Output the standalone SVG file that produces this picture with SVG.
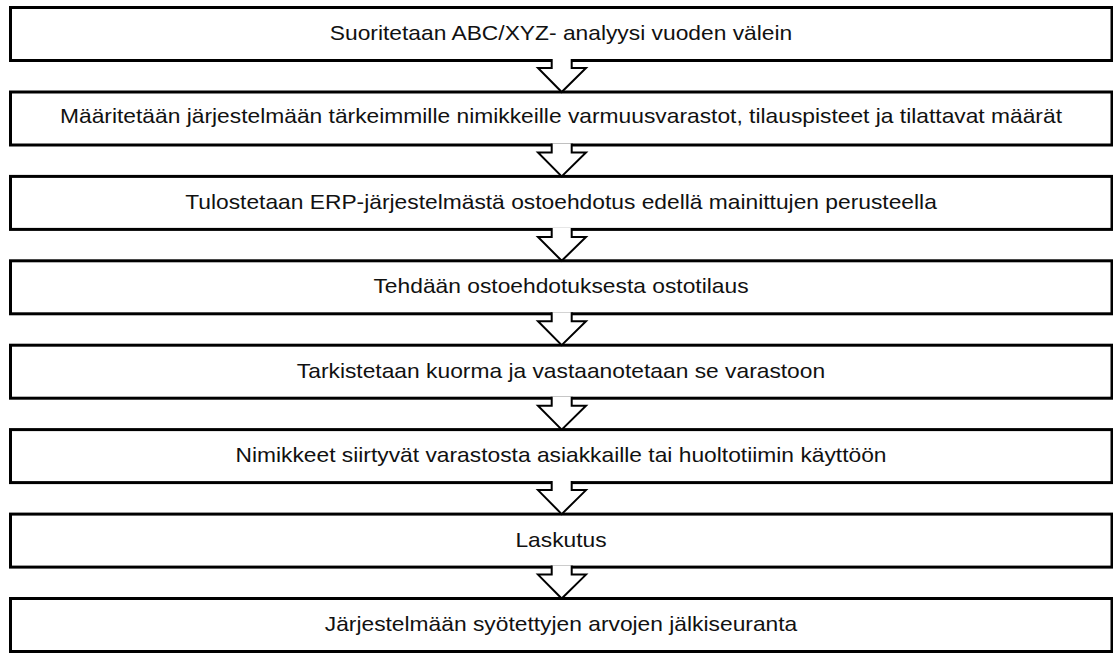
<svg xmlns="http://www.w3.org/2000/svg" width="1113" height="653" viewBox="0 0 1113 653">
<defs>
<style>
.box{fill:#fff;stroke:#000;stroke-width:3}
.lbl{font-family:"Liberation Sans",Arial,sans-serif;font-size:20px;fill:#111;text-anchor:middle}
.arr{fill:#fff;stroke:#000;stroke-width:2;stroke-linejoin:miter}
</style>
</defs>
<rect width="1113" height="653" fill="#fff"/>
<g id="n1"><rect class="box" x="10.5" y="7.5" width="1101.5" height="53"/><text class="lbl" transform="translate(561,39.5) scale(1.14,1)">Suoritetaan ABC/XYZ- analyysi vuoden välein</text></g>
<g id="n2"><rect class="box" x="10.5" y="92" width="1101.5" height="53"/><text class="lbl" transform="translate(561,123) scale(1.14,1)">Määritetään järjestelmään tärkeimmille nimikkeille varmuusvarastot, tilauspisteet ja tilattavat määrät</text></g>
<g id="n3"><rect class="box" x="10.5" y="176.4" width="1101.5" height="53"/><text class="lbl" transform="translate(561,208.5) scale(1.14,1)">Tulostetaan ERP-järjestelmästä ostoehdotus edellä mainittujen perusteella</text></g>
<g id="n4"><rect class="box" x="10.5" y="260.8" width="1101.5" height="53"/><text class="lbl" transform="translate(561,293) scale(1.14,1)">Tehdään ostoehdotuksesta ostotilaus</text></g>
<g id="n5"><rect class="box" x="10.5" y="345.2" width="1101.5" height="53"/><text class="lbl" transform="translate(561,377.5) scale(1.14,1)">Tarkistetaan kuorma ja vastaanotetaan se varastoon</text></g>
<g id="n6"><rect class="box" x="10.5" y="429.6" width="1101.5" height="53"/><text class="lbl" transform="translate(561,462) scale(1.14,1)">Nimikkeet siirtyvät varastosta asiakkaille tai huoltotiimin käyttöön</text></g>
<g id="n7"><rect class="box" x="10.5" y="514.1" width="1101.5" height="53"/><text class="lbl" transform="translate(561,547) scale(1.14,1)">Laskutus</text></g>
<g id="n8"><rect class="box" x="10.5" y="598.5" width="1101.5" height="53"/><text class="lbl" transform="translate(561,631) scale(1.14,1)">Järjestelmään syötettyjen arvojen jälkiseuranta</text></g>
<g id="connectors">
<path class="arr" d="M551.7,59 V68 H538 L561.7,92 L586,68 H571.7 V59"/>
<path class="arr" d="M551.7,143.5 V152.5 H538 L561.7,176.4 L586,152.5 H571.7 V143.5"/>
<path class="arr" d="M551.7,227.9 V236.9 H538 L561.7,260.8 L586,236.9 H571.7 V227.9"/>
<path class="arr" d="M551.7,312.3 V321.3 H538 L561.7,345.2 L586,321.3 H571.7 V312.3"/>
<path class="arr" d="M551.7,396.7 V405.7 H538 L561.7,429.6 L586,405.7 H571.7 V396.7"/>
<path class="arr" d="M551.7,481.1 V490.1 H538 L561.7,514.1 L586,490.1 H571.7 V481.1"/>
<path class="arr" d="M551.7,565.6 V574.6 H538 L561.7,598.5 L586,574.6 H571.7 V565.6"/>
</g>
</svg>
